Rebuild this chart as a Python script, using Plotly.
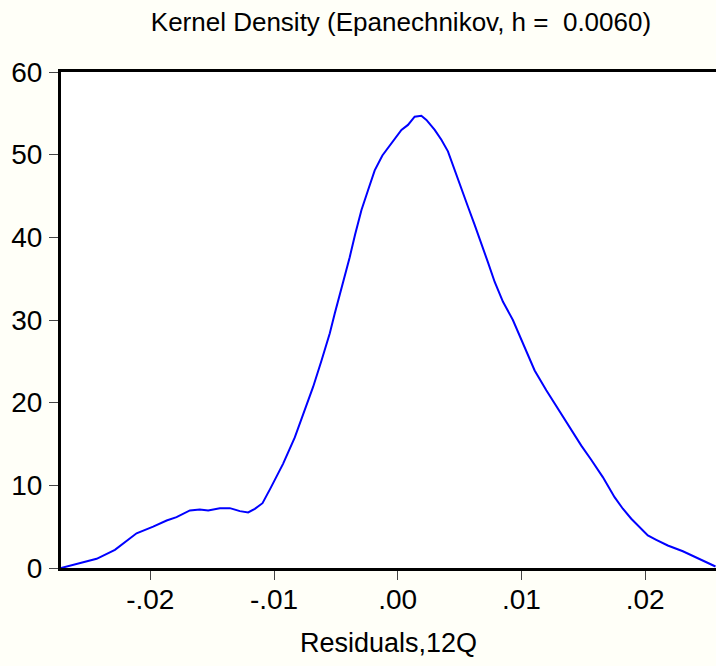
import plotly.graph_objects as go

resid = [-0.02722, -0.02434, -0.02286, -0.02191, -0.02111, -0.01977, -0.01868, -0.01788,
         -0.0168, -0.0160, -0.01532, -0.01438, -0.01357, -0.01276, -0.01209, -0.01155,
         -0.01093, -0.0103, -0.00927, -0.00832, -0.00765, -0.00684, -0.00616, -0.00549,
         -0.00509, -0.00455, -0.00388, -0.00345, -0.00293, -0.0024, -0.00186, -0.00124,
         -0.00051, 0.0003, 0.00083, 0.00137, 0.00191, 0.00232, 0.00299, 0.00353,
         0.00406, 0.0046, 0.00515, 0.00568, 0.00622, 0.00689, 0.00729, 0.00784,
         0.00851, 0.00931, 0.00985, 0.01052, 0.01107, 0.01201, 0.01295, 0.01375,
         0.01484, 0.01564, 0.01658, 0.01753, 0.0182, 0.01888, 0.01968, 0.02022,
         0.0209, 0.02183, 0.02305, 0.02413, 0.02494, 0.02569]
density = [0.0, 1.11, 2.2, 3.3, 4.2, 5.0, 5.75, 6.15,
           6.96, 7.08, 6.96, 7.24, 7.24, 6.88, 6.72, 7.16,
           7.84, 9.6, 12.6, 15.8, 18.5, 21.9, 25.1, 28.4,
           30.8, 33.8, 37.6, 40.3, 43.3, 45.7, 48.1, 49.9,
           51.3, 53.0, 53.6, 54.6, 54.7, 54.2, 53.0, 51.8,
           50.4, 48.1, 45.9, 43.7, 41.5, 38.8, 37.0, 34.6,
           32.2, 30.0, 28.1, 25.7, 23.9, 21.5, 19.3, 17.4,
           14.8, 13.1, 11.0, 8.57, 7.17, 5.96, 4.75, 3.93,
           3.41, 2.72, 2.03, 1.31, 0.70, 0.18]

x_tickvals = [-0.02, -0.01, 0.0, 0.01, 0.02]
x_ticktext = ["-.02", "-.01", ".00", ".01", ".02"]
y_tickvals = [0, 10, 20, 30, 40, 50, 60]

FONT = "Liberation Sans, Arial, sans-serif"

fig = go.Figure()
fig.add_trace(go.Scatter(x=resid, y=density, mode="lines",
                         line=dict(color="#0000FF", width=2), showlegend=False))

fig.update_layout(
    width=716, height=666,
    margin=dict(l=61, r=0, t=72, b=98),
    paper_bgcolor="#FFFFF8",
    plot_bgcolor="#FFFFFF",
    font=dict(family=FONT, size=26, color="#000000"),
    title=dict(text="Kernel Density (Epanechnikov, h =  0.0060)",
               x=0.56, xanchor="center", y=0.967, yanchor="middle",
               font=dict(size=26)),
    xaxis=dict(range=[-0.02722, 0.02573], tickvals=x_tickvals, ticktext=x_ticktext,
               ticks="outside", ticklen=9, tickwidth=1, tickcolor="#444444",
               showline=True, linecolor="#000000", linewidth=3, mirror=True,
               showgrid=False, zeroline=False,
               title=dict(text="Residuals,12Q", standoff=20, font=dict(size=27)),
               tickfont=dict(size=28), ticklabelstandoff=-5),
    yaxis=dict(range=[0, 60], tickvals=y_tickvals,
               ticks="outside", ticklen=9, tickwidth=1, tickcolor="#444444",
               showline=True, linecolor="#000000", linewidth=3, mirror=False,
               showgrid=False, zeroline=False, tickfont=dict(size=28),
               ticklabelstandoff=1),
)

fig.write_html("out.html")
